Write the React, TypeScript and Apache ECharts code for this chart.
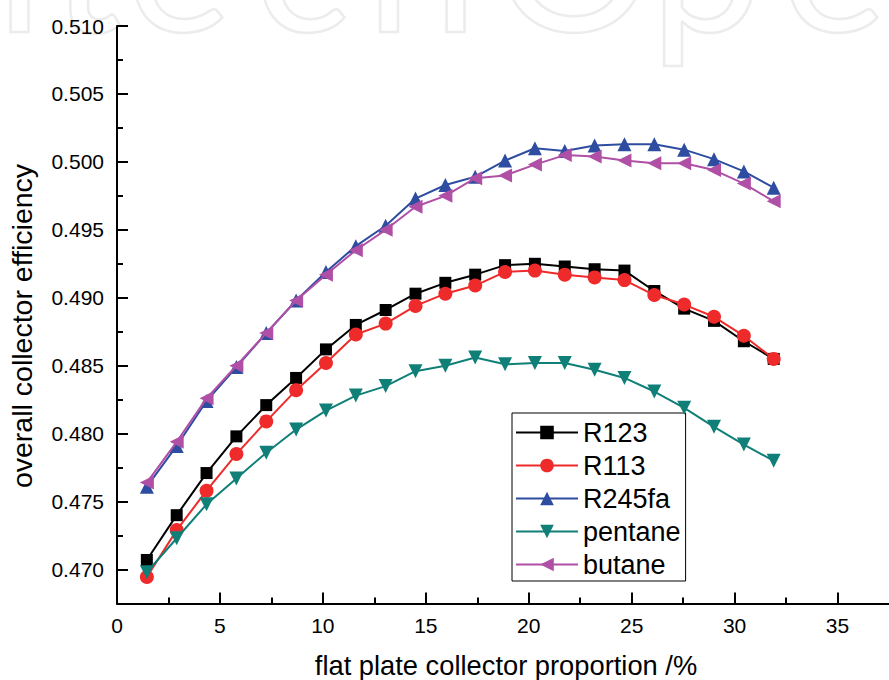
import React, { useEffect, useRef } from "react";
import * as echarts from "echarts";

const xValues = [1.45, 2.9, 4.35, 5.8, 7.25, 8.7, 10.15, 11.6, 13.05, 14.5, 15.95, 17.4, 18.85, 20.3, 21.75, 23.2, 24.65, 26.1, 27.55, 29.0, 30.45, 31.9];

const r123 = [0.4707, 0.474, 0.4771, 0.4798, 0.4821, 0.4841, 0.4862, 0.488, 0.4891, 0.4903, 0.4911, 0.4917, 0.4924, 0.4925, 0.4923, 0.4921, 0.492, 0.4905, 0.4892, 0.4883, 0.4868, 0.4855];
const r113 = [0.46945, 0.4729, 0.4758, 0.4785, 0.4809, 0.4832, 0.4852, 0.4873, 0.4881, 0.4894, 0.4903, 0.4909, 0.4919, 0.492, 0.4917, 0.4915, 0.4913, 0.4902, 0.4895, 0.4886, 0.4872, 0.4855];
const r245fa = [0.4761, 0.4791, 0.4824, 0.4849, 0.4874, 0.4898, 0.4919, 0.4938, 0.4953, 0.4973, 0.4983, 0.4989, 0.5001, 0.501, 0.5008, 0.5012, 0.5013, 0.5013, 0.5009, 0.5002, 0.4993, 0.4981];
const pentane = [0.4698, 0.4723, 0.4748, 0.4767, 0.4786, 0.4803, 0.4817, 0.4828, 0.4835, 0.4846, 0.485, 0.4856, 0.4851, 0.4852, 0.4852, 0.4847, 0.4841, 0.4831, 0.4819, 0.4805, 0.4792, 0.478];
const butane = [0.4764, 0.4794, 0.4826, 0.485, 0.4874, 0.4898, 0.4917, 0.4935, 0.495, 0.4967, 0.4975, 0.4988, 0.499, 0.4998, 0.5005, 0.5004, 0.5001, 0.4999, 0.4999, 0.4994, 0.4984, 0.4971];

const xMajorTicks = [0, 5, 10, 15, 20, 25, 30, 35];
const xMinorTicks = [2.5, 7.5, 12.5, 17.5, 22.5, 27.5, 32.5];
const yMajorTicks = [0.47, 0.475, 0.48, 0.485, 0.49, 0.495, 0.5, 0.505, 0.51];
const yMinorTicks = [0.4725, 0.4775, 0.4825, 0.4875, 0.4925, 0.4975, 0.5025, 0.5075];

const seriesNames = ["R123", "R113", "R245fa", "pentane", "butane"];
const seriesValues = [r123, r113, r245fa, pentane, butane];
const seriesColors = ["#000000", "#ee2a2a", "#2e4da0", "#0f7f78", "#b04fa6"];
const seriesSymbols = ["rect", "circle", "triangle", "triangle", "triangle"];
const seriesSymbolRotate = [0, 0, 0, 180, 90];
const seriesSymbolSize = [12, 14, 14, 14, 14];

const watermarkLetters = ["n", "t", "e", "c", "h", "O", "p", "e"];
const watermarkX = [-70, 50, 126, 254, 366, 494, 650, 781];

const FONT = "Liberation Sans";
const X_MIN = 0;
const X_MAX = 37.5;
const Y_MIN = 0.4675;
const Y_MAX = 0.51;

export default function App() {
  const ref = useRef<HTMLDivElement>(null);

  useEffect(() => {
    if (!ref.current) return;
    const chart = echarts.init(ref.current, null, { renderer: "svg" });

    const series = seriesNames.map((name, k) => ({
      name,
      type: "line",
      xAxisIndex: 0,
      yAxisIndex: 0,
      data: xValues.map((x, i) => [x, seriesValues[k][i]]),
      symbol: seriesSymbols[k],
      symbolSize: seriesSymbolSize[k],
      symbolRotate: seriesSymbolRotate[k],
      showAllSymbol: true,
      color: seriesColors[k],
      itemStyle: { color: seriesColors[k] },
      lineStyle: { color: seriesColors[k], width: 2 },
      z: 2 + k,
    }));

    const watermark = watermarkLetters.map((ch, i) => ({
      type: "text",
      x: watermarkX[i],
      y: -45,
      z: -10,
      silent: true,
      style: {
        text: ch,
        font: "200px Lato",
        fill: "rgba(0,0,0,0)",
        stroke: "#ececec",
        lineWidth: 2.5,
        textAlign: "left",
        textVerticalAlign: "middle",
      },
    }));

    chart.setOption({
      animation: false,
      backgroundColor: "#ffffff",
      grid: { left: 117, top: 26, right: -7, bottom: 76.5, containLabel: false },
      xAxis: [
        {
          type: "value",
          min: X_MIN,
          max: X_MAX,
          interval: 5,
          position: "bottom",
          axisLine: { show: true, onZero: false, lineStyle: { color: "#000", width: 2 } },
          axisTick: { show: true, inside: true, length: 11, customValues: xMajorTicks, lineStyle: { color: "#000", width: 2 } },
          axisLabel: {
            show: true,
            customValues: xMajorTicks,
            margin: 11,
            color: "#000",
            fontSize: 21,
            fontFamily: FONT,
            formatter: (v: number) => String(v),
          },
          splitLine: { show: false },
        },
        {
          type: "value",
          min: X_MIN,
          max: X_MAX,
          interval: 2.5,
          position: "bottom",
          axisLine: { show: false },
          axisTick: { show: true, inside: true, length: 6, customValues: xMinorTicks, lineStyle: { color: "#000", width: 2 } },
          axisLabel: { show: false },
          splitLine: { show: false },
        },
      ],
      yAxis: [
        {
          type: "value",
          min: Y_MIN,
          max: Y_MAX,
          interval: 0.0025,
          position: "left",
          axisLine: { show: true, onZero: false, lineStyle: { color: "#000", width: 2 } },
          axisTick: { show: true, inside: true, length: 11, customValues: yMajorTicks, lineStyle: { color: "#000", width: 2 } },
          axisLabel: {
            show: true,
            customValues: yMajorTicks,
            margin: 13,
            color: "#000",
            fontSize: 21,
            fontFamily: FONT,
            formatter: (v: number) => v.toFixed(3),
          },
          splitLine: { show: false },
        },
        {
          type: "value",
          min: Y_MIN,
          max: Y_MAX,
          interval: 0.0025,
          position: "left",
          axisLine: { show: false },
          axisTick: { show: true, inside: true, length: 6, customValues: yMinorTicks, lineStyle: { color: "#000", width: 2 } },
          axisLabel: { show: false },
          splitLine: { show: false },
        },
      ],
      legend: {
        orient: "vertical",
        left: 512,
        top: 413,
        padding: [6, 5, 3, 3],
        itemGap: 6,
        itemWidth: 62,
        itemHeight: 17,
        borderColor: "#000",
        borderWidth: 1,
        backgroundColor: "#ffffff",
        textStyle: { fontSize: 27, fontFamily: FONT, color: "#000" },
        data: seriesNames,
      },
      graphic: [
        ...watermark,
        {
          type: "text",
          x: 22,
          y: 326,
          rotation: Math.PI / 2,
          style: {
            text: "overall collector efficiency",
            font: `28.5px "${FONT}"`,
            fill: "#000",
            textAlign: "center",
            textVerticalAlign: "middle",
          },
        },
        {
          type: "text",
          x: 506,
          y: 665.5,
          style: {
            text: "flat plate collector proportion /%",
            font: `27.3px "${FONT}"`,
            fill: "#000",
            textAlign: "center",
            textVerticalAlign: "middle",
          },
        },
      ],
      series,
    });

    return () => chart.dispose();
  }, []);

  return (
    <div
      ref={ref}
      style={{ position: "fixed", left: 0, top: 0, width: 889, height: 680, background: "#fff" }}
    />
  );
}
